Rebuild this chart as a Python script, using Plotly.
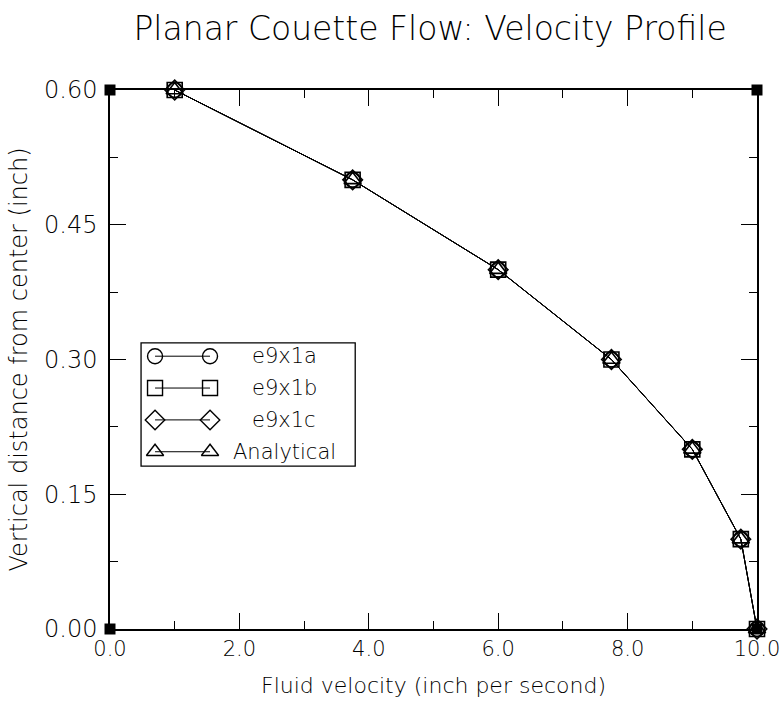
import plotly.graph_objects as go

# Data
y_pos = [0.6, 0.5, 0.4, 0.3, 0.2, 0.1, 0.0]
vel_e9x1a = [1.0, 3.75, 6.0, 7.75, 9.0, 9.75, 10.0]
vel_e9x1b = [1.0, 3.75, 6.0, 7.75, 9.0, 9.75, 10.0]
vel_e9x1c = [1.0, 3.75, 6.0, 7.75, 9.0, 9.75, 10.0]
vel_analytical = [1.0, 3.75, 6.0, 7.75, 9.0, 9.75, 10.0]
series_names = ["e9x1a", "e9x1b", "e9x1c", "Analytical"]
series_symbols = ["circle-open", "square-open", "diamond-open", "triangle-up-open"]
corner_x = [0.0, 0.0, 10.0, 10.0]
corner_y = [0.0, 0.6, 0.6, 0.0]
x_ticks = [0, 2, 4, 6, 8, 10]
y_ticks = [0.0, 0.15, 0.30, 0.45, 0.60]

FONT = "DejaVu Sans ExtraLight, DejaVu Sans"
series_vals = [vel_e9x1a, vel_e9x1b, vel_e9x1c, vel_analytical]

fig = go.Figure()
for name, sym, vals in zip(series_names, series_symbols, series_vals):
    fig.add_trace(go.Scatter(
        x=vals, y=y_pos, mode="lines+markers", name=name,
        line=dict(color="black", width=1),
        marker=dict(symbol=sym, size=15, color="black", line=dict(width=1.6, color="black")),
        cliponaxis=False, showlegend=False))

fig.add_trace(go.Scatter(
    x=corner_x, y=corner_y, mode="markers",
    marker=dict(symbol="square", size=11, color="black"),
    cliponaxis=False, showlegend=False))

# custom legend on an overlay axis
for i, (name, sym) in enumerate(zip(series_names, series_symbols)):
    fig.add_trace(go.Scatter(
        x=[0, 1], y=[i, i], mode="lines+markers", xaxis="x2", yaxis="y2",
        line=dict(color="black", width=1),
        marker=dict(symbol=sym, size=15, color="black", line=dict(width=1.4, color="black")),
        cliponaxis=False, showlegend=False, hoverinfo="skip"))
    fig.add_annotation(x=2.35, y=i, xref="x2", yref="y2", text=name, showarrow=False,
                       xanchor="center", yanchor="middle",
                       font=dict(family=FONT, size=21, color="black", weight=200))

fig.add_shape(type="rect", xref="paper", yref="paper",
              x0=0.048, x1=0.379, y0=0.302, y1=0.531,
              line=dict(color="black", width=1.3), fillcolor="rgba(0,0,0,0)")

axis_common = dict(showgrid=False, zeroline=False, showline=True, linecolor="black",
                   linewidth=1.5, mirror="allticks", ticks="inside", ticklen=16,
                   tickwidth=1.3, tickcolor="black", automargin=False,
                   ticklabeloverflow="allow")

fig.update_layout(
    width=782, height=710,
    margin=dict(l=110, r=25, t=90, b=81),
    paper_bgcolor="white", plot_bgcolor="white",
    title=dict(text="Planar Couette Flow: Velocity Profile", x=0.55, xanchor="center",
               y=0.96, yanchor="middle",
               font=dict(family=FONT, size=33, color="black", weight=200)),
    xaxis=dict(range=[0, 10], tickvals=x_ticks, tickformat=".1f",
               tickfont=dict(family=FONT, size=21, color="black", weight=200),
               title=dict(text="Fluid velocity (inch per second)", standoff=18,
                          font=dict(family=FONT, size=22, color="black", weight=200)),
               minor=dict(ticks="inside", dtick=1, ticklen=8, tickwidth=1.3, tickcolor="black"),
               **axis_common),
    yaxis=dict(range=[0, 0.6], tickvals=y_ticks, tickformat=".2f", ticklabelstandoff=6,
               tickfont=dict(family=FONT, size=24, color="black", weight=200),
               title=dict(text="Vertical distance from center (inch)", standoff=10,
                          font=dict(family=FONT, size=24, color="black", weight=200)),
               minor=dict(ticks="inside", dtick=0.075, ticklen=8, tickwidth=1.3, tickcolor="black"),
               **axis_common),
    xaxis2=dict(domain=[0.0696, 0.3246], range=[0, 3], visible=False, anchor="y2"),
    yaxis2=dict(domain=[0.32, 0.515], range=[3.15, -0.15], visible=False, anchor="x2"),
)

fig.write_html("out.html")
